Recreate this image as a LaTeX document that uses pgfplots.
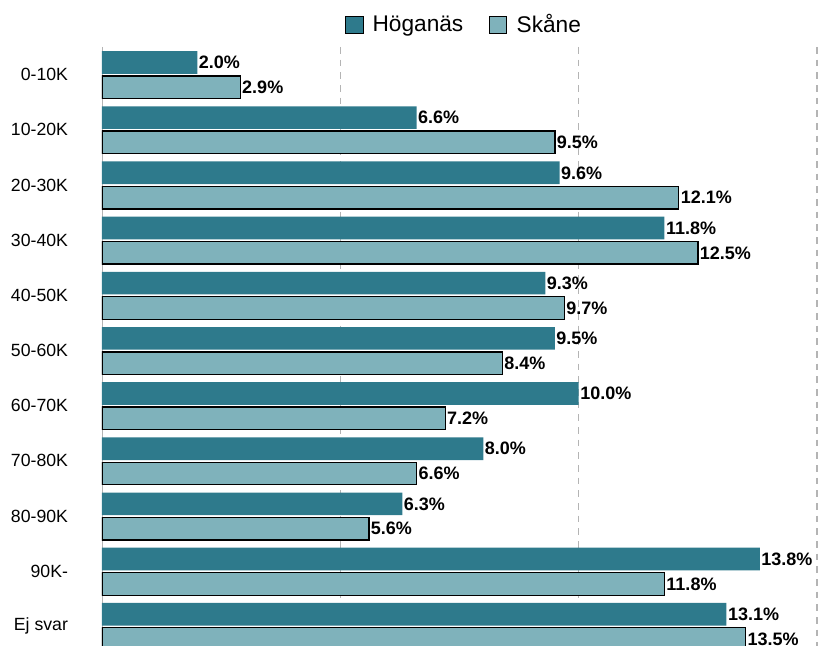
\documentclass[border=0pt]{standalone}
\usepackage{fontspec}
\setmainfont{Liberation Sans}
\usepackage{pgfplots}
\pgfplotsset{compat=1.18}

\definecolor{hog}{RGB}{46,122,140}
\definecolor{ska}{RGB}{127,178,187}
\definecolor{gridgray}{RGB}{180,180,180}

\begin{document}
\begin{tikzpicture}
\begin{axis}[
    scale only axis,
    width=536.25pt,
    height=449pt,
    xbar,
    y dir=reverse,
    xmin=0, xmax=15,
    ymin=-0.5, ymax=10.35,
    ytick={0,...,10},
    yticklabels={0-10K,10-20K,20-30K,30-40K,40-50K,50-60K,60-70K,70-80K,80-90K,90K-,Ej svar},
    yticklabel style={font=\fontsize{13.25}{15}\selectfont, xshift=-22pt},
    xtick={5,10,15},
    xticklabels={},
    major tick length=0pt,
    xmajorgrids,
    major grid style={gridgray, dash pattern=on 5pt off 4.5pt, line width=0.8pt},
    axis x line*=bottom,
    axis y line*=left,
    x axis line style={draw=none},
    y axis line style={gridgray, line width=0.6pt},
    bar width=0.41,
    /pgf/number format/assume math mode=true,
    nodes near coords={\pgfmathprintnumber[fixed,fixed zerofill,precision=1]{\pgfplotspointmeta}\%},
    every node near coord/.append style={anchor=west, inner xsep=1pt, font=\bfseries\fontsize{13.5}{15}\selectfont, text=black},
    legend columns=2,
    legend style={at={(axis description cs:0.507,1.037)}, anchor=center, draw=none, fill=none,
        font=\fontsize{17}{19}\selectfont,
        /tikz/every odd column/.append style={column sep=5pt},
        /tikz/every even column/.append style={column sep=17pt}},
    legend image code/.code={\draw[#1] (0pt,-6.5pt) rectangle (13pt,6.5pt);},
]
\addplot[fill=hog, draw=none, bar shift=-0.22] coordinates {
    (2.0,0) (6.6,1) (9.6,2) (11.8,3) (9.3,4) (9.5,5) (10.0,6) (8.0,7) (6.3,8) (13.8,9) (13.1,10)
};
\addplot[fill=ska, draw=black, line width=1pt, bar shift=0.23] coordinates {
    (2.9,0) (9.5,1) (12.1,2) (12.5,3) (9.7,4) (8.4,5) (7.2,6) (6.6,7) (5.6,8) (11.8,9) (13.5,10)
};
\legend{Höganäs, Skåne}
\coordinate (sw) at (rel axis cs:0,0);
\coordinate (ne) at (rel axis cs:1,1);
\end{axis}
\pgfresetboundingbox
\path[use as bounding box] ([xshift=-76.5pt]sw) rectangle ([xshift=3pt,yshift=35.25pt]ne);
\end{tikzpicture}
\end{document}
